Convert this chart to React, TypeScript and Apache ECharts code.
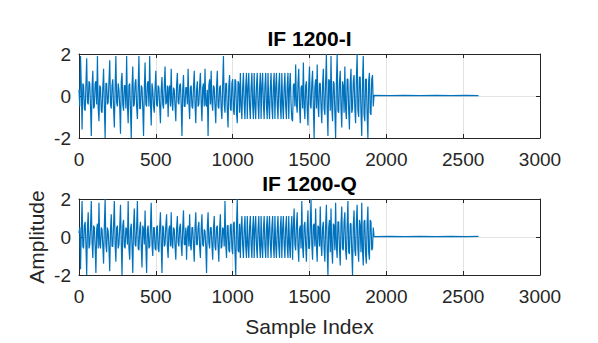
import React, { useEffect, useRef } from "react";
import * as echarts from "echarts";

// Sample spacing of the hand-read values (samples per value)
const STEP = 5;

// In-phase signal (one value per STEP samples, from sample 0)
const iValues = [
  0.3, -0.5, 1.9, 0.4, -1.6, 0.6, 0.5, -0.6, -0.7, 0.5, 1.8, -0.3, -0.4, 0.7, 0.6, -0.5, -1.9, 0.4, 1.2, -0.6,
  -0.5, 0.6, 0.7, -0.4, 1.9, -0.6, -1.2, 0.5, 0.4, -0.7, -0.8, 0.4, 1.3, -0.5, -2.0, 0.6, 0.6, -0.4, -0.3, 0.7,
  1.7, -0.4, -0.6, 0.5, 0.8, -0.6, -1.5, 0.4, 1.9, -0.3, -0.5, 0.6, 0.3, -0.5, -1.8, 0.7, 1.1, -0.4, -0.7, 0.5,
  0.5, -0.6, 1.9, -0.4, -1.3, 0.5, 0.6, -0.7, -2.0, 0.4, 1.4, -0.5, -0.4, 0.6, 0.8, -0.5, -1.1, 0.4, 1.9, -0.6,
  -0.6, 0.5, 0.4, -0.6, -1.9, 0.3, 1.6, -0.4, -0.5, 0.6, 0.7, -0.5, 1.9, -0.3, -1.4, 0.6, 0.3, -0.5, -0.8, 0.4,
  1.2, -0.4, -0.5, 0.5, 0.4, -0.5, -1.3, 0.3, 0.9, -0.4, -0.6, 0.5, 1.4, -0.4, -0.3, 0.5, -1.0, 0.4, 0.5, -0.5,
  1.3, -0.3, -0.7, 0.4, 0.3, -0.5, -1.2, 0.5, 1.1, -0.3, -0.4, 0.5, 0.6, -0.4, -1.9, 0.3, 1.0, -0.5, -0.5, 0.4,
  0.4, -0.4, 1.3, -0.3, -1.1, 0.4, 0.5, -0.5, -0.6, 0.4, 1.2, -0.4, -1.3, 0.3, 0.7, -0.5, -0.4, 0.5, 1.1, -0.3,
  -1.2, 0.4, 0.6, -0.5, 1.3, -0.4, -0.5, 0.3, -1.9, 0.5, 0.8, -0.4, 1.2, -0.3, -0.7, 0.5, 0.4, -0.5, -1.3, 0.4,
  1.2, -0.5, -0.6, 0.4, 0.5, -0.6, -1.1, 0.5, 1.9, -0.4, -0.8, 0.6, 0.6, -0.7, -1.5, 0.5, 1.0, -0.6, -0.7, 0.6,
  0.8, -0.7, -0.9, 0.8, 0.7, -0.8, -1.3, 0.7, 0.6, -0.8,
  1.1, -0.5, -1.1, 0.4, 1.1, -0.4, -1.1, 0.5, 1.1, -1.1,
  0.4, 1.1, -0.5, -1.1, 0.4, 1.1, -0.4, -1.1, 1.1, -0.5,
  -1.1, 0.5, 1.1, -0.4, -1.1, 0.4, 1.1, -1.1, 0.5, 1.1,
  -0.4, -1.1, 0.5, 1.1, -0.5, -1.1, 1.1, -0.4, -1.1, 0.4,
  1.1, -0.5, -1.1, 0.5, 1.1, -1.1, 0.4, 1.1, -0.4, -1.1,
  0.5, 1.1, -0.5, -1.1, 1.1, -0.4, -1.1, 0.4, 1.1, -0.5,
  -1.1, 0.5, 1.1, -1.1, 0.4, 1.1, -0.4, -1.1,
  -1.2, 0.5, 0.6, -0.5, 1.5, -0.4, -0.8, 0.6, 1.3, -0.5, -1.3, 0.4, 0.5, -0.6, 1.6, -0.5, -1.1, 0.5, 0.7, -0.6,
  -1.4, 0.5, 1.4, -0.4, -0.6, 0.6, 1.2, -0.5, -2.0, 0.4, 0.8, -0.6, 1.5, -0.4, -1.0, 0.6, 0.6, -0.5, -1.3, 0.5,
  1.3, -0.6,
  -0.9, 0.7, 2.0, -0.6, -1.9, 0.8, 0.7, -0.7, 1.9, -0.5, -1.2, 0.7, 0.6, -0.8, -2.0, 0.6, 2.0, -0.7, -0.8, 0.6,
  1.2, -0.6, -1.5, 0.7, 0.5, -0.8, 1.4, -0.6, -1.1, 0.8, 0.8, -0.7, -1.6, 0.6, 1.3, -0.8, -0.6, 0.7, 1.0, -0.6,
  -1.3, 0.8, 2.0, -0.7, -1.0, 0.9, 0.9, -0.8, -1.9, 0.7, 1.9, -0.9, -1.2, 0.8, 0.8, -0.9, -2.0, 0.7, 1.1, -0.8,
  -0.9, 0.8, 1.0, -0.5,
];

// Quadrature signal
const qValues = [
  0.2, 0.5, -1.7, 0.4, 1.9, -0.5, -0.6, 0.6, 0.8, -0.4, -2.0, 0.5, 1.3, -0.6, -0.4, 0.5, 1.9, -0.3, -1.1, 0.6,
  0.5, -0.5, -1.9, 0.4, 0.7, -0.6, 1.8, -0.4, -0.6, 0.5, 0.4, -0.5, -1.4, 0.6, 2.0, -0.4, -0.8, 0.5, 0.3, -0.6,
  -1.8, 0.4, 1.2, -0.5, -0.5, 0.6, 1.9, -0.4, -1.3, 0.5, 0.6, -0.6, -0.4, 0.5, 1.7, -0.3, -2.0, 0.6, 0.9, -0.5,
  -0.6, 0.5, 0.4, -0.4, 1.9, -0.6, -1.2, 0.4, 0.7, -0.5, -1.9, 0.6, 1.5, -0.4, -0.5, 0.5, 1.9, -0.6, -0.7, 0.4,
  0.8, -0.5, -1.6, 0.6, 0.4, -0.4, 1.4, -0.5, -1.9, 0.4, 0.6, -0.6, -0.5, 0.5, 1.8, -0.4, -1.0, 0.5, 0.5, -0.6,
  -0.7, 0.5, 0.6, -0.6, -0.8, 0.5, 1.3, -0.4, -1.9, 0.6, 0.5, -0.5, -0.4, 0.6, 1.2, -0.5, -1.1, 0.4, 0.6, -0.5,
  1.3, -0.4, -0.6, 0.5, 0.4, -0.5, -1.2, 0.4, 1.1, -0.3, -0.5, 0.5, 0.7, -0.4, -1.0, 0.5, 1.4, -0.4, -0.4, 0.5,
  -1.2, 0.3, 0.6, -0.5, 1.2, -0.4, -0.7, 0.5, 0.5, -0.4, -1.3, 0.5, 1.3, -0.4, -0.4, 0.5, 0.8, -0.5, -1.1, 0.4,
  1.2, -0.4, -0.5, 0.4, 0.3, -0.5, -1.9, 0.5, 1.3, -0.3, -0.6, 0.5, 0.5, -0.4, -1.2, 0.4, 1.1, -0.5, -0.7, 0.5,
  0.6, -0.5, -1.3, 0.4, 1.2, -0.6, -0.5, 0.5, 0.4, -0.5, 1.9, -0.4, -1.1, 0.6, 0.6, -0.7, -0.8, 0.6, 0.7, -0.6,
  -0.9, 0.7, 0.8, -0.8, -2.0, 0.6, 2.0, -0.7, -0.8, 0.7,
  -1.1, 0.5, 1.1, -0.4, -1.1, 0.4, 1.1, -0.5, -1.1, 1.1,
  -0.4, -1.1, 0.5, 1.1, -0.4, -1.1, 0.4, 1.1, -1.1, 0.5,
  1.1, -0.5, -1.1, 0.4, 1.1, -0.4, -1.1, 1.1, -0.5, -1.1,
  0.4, 1.1, -0.5, -1.1, 0.5, 1.1, -1.1, 0.4, 1.1, -0.4,
  -1.1, 0.5, 1.1, -0.5, -1.1, 1.1, -0.4, -1.1, 0.4, 1.1,
  -0.5, -1.1, 0.5, 1.1, -1.1, 0.4, 1.1, -0.4, -1.1, 0.5,
  1.1, -0.5, -1.1, 1.1, -0.4, -1.1, 0.4, 1.1,
  -1.2, 0.5, 1.5, -0.4, -0.7, 0.6, 1.3, -0.5, -1.3, 0.4, 0.6, -0.6, 1.9, -0.5, -1.1, 0.6, 0.8, -0.4, -1.3, 0.5,
  1.4, -0.6, -0.6, 0.5, 2.0, -0.4, -1.2, 0.6, 0.7, -0.5, 1.5, -0.4, -1.3, 0.6, 0.5, -0.5, 1.6, -0.4, -1.0, 0.5,
  0.8, -0.6,
  -1.3, 0.6, 1.7, -0.7, -2.0, 0.5, 0.9, -0.8, 1.5, -0.6, -1.4, 0.7, 0.6, -0.7, 1.8, -0.5, -1.1, 0.8, 0.8, -0.6,
  -1.5, 0.7, 1.6, -0.6, -0.7, 0.8, 1.3, -0.7, -1.2, 0.6, 1.9, -0.8, -0.9, 0.7, 0.7, -0.8, -2.0, 0.6, 1.4, -0.7,
  -1.0, 0.8, 1.7, -0.6, -1.3, 0.9, 0.6, -0.8, 1.8, -0.7, -1.5, 0.8, 0.9, -0.9, -1.4, 0.7, 1.6, -0.8, -1.2, 0.9,
  0.8, -0.7, -0.6, 0.5,
];

// Near-zero tail after the burst (sample index, value)
const tailSamples = [1920, 2020, 2120, 2220, 2320, 2420, 2520, 2600];
const iTail = [0.03, 0.02, 0.03, 0.02, 0.03, 0.02, 0.03, 0.02];
const qTail = [0.02, 0.03, 0.02, 0.03, 0.02, 0.03, 0.02, 0.03];

const xTicks = { min: 0, max: 3000, interval: 500 };
const yTicks = { min: -2, max: 2, interval: 2 };
const titles = ["IF 1200-I", "IF 1200-Q"];
const xLabel = "Sample Index";
const yLabel = "Amplitude";

const FONT = "'Liberation Sans', Arial, Helvetica, sans-serif";
const INK = "#262626";
const LINE = "#0072BD";
const GRIDC = "#e3e3e3";

function toPairs(vals: number[], tailV: number[]) {
  const pts: number[][] = vals.map((v, k) => [k * STEP, v]);
  tailSamples.forEach((s, k) => pts.push([s, tailV[k]]));
  return pts;
}

export default function App() {
  const ref = useRef<HTMLDivElement>(null);
  useEffect(() => {
    document.body.style.margin = "0";
    const chart = echarts.init(ref.current!, undefined, { renderer: "svg" });
    const grids = [
      { left: 79, right: 58, top: 54, height: 84 },
      { left: 79, right: 58, top: 199, height: 76 },
    ];
    const fmt = (v: number) => String(v);
    const xAxes: any[] = [];
    const yAxes: any[] = [];
    grids.forEach((_, g) => {
      xAxes.push({
        type: "value", gridIndex: g, position: "bottom", ...xTicks,
        axisLine: { show: true, onZero: false, lineStyle: { color: INK, width: 1 } },
        axisTick: { show: true, inside: true, length: 4, lineStyle: { color: INK } },
        axisLabel: { show: true, color: INK, fontSize: 19, fontFamily: FONT, margin: 12, formatter: fmt },
        splitLine: { show: true, lineStyle: { color: GRIDC, width: 1 } },
      });
      xAxes.push({
        type: "value", gridIndex: g, position: "top", ...xTicks,
        axisLine: { show: true, onZero: false, lineStyle: { color: INK, width: 1 } },
        axisTick: { show: true, inside: true, length: 4, lineStyle: { color: INK } },
        axisLabel: { show: false },
        splitLine: { show: false },
      });
      yAxes.push({
        type: "value", gridIndex: g, position: "left", ...yTicks,
        axisLine: { show: true, onZero: false, lineStyle: { color: INK, width: 1 } },
        axisTick: { show: true, inside: true, length: 4, lineStyle: { color: INK } },
        axisLabel: { show: true, color: INK, fontSize: 19, fontFamily: FONT, margin: 8, formatter: fmt },
        splitLine: { show: true, lineStyle: { color: GRIDC, width: 1 } },
      });
      yAxes.push({
        type: "value", gridIndex: g, position: "right", ...yTicks,
        axisLine: { show: true, onZero: false, lineStyle: { color: INK, width: 1 } },
        axisTick: { show: true, inside: true, length: 4, lineStyle: { color: INK } },
        axisLabel: { show: false },
        splitLine: { show: false },
      });
    });
    chart.setOption({
      animation: false,
      backgroundColor: "#ffffff",
      grid: grids,
      xAxis: xAxes,
      yAxis: yAxes,
      series: [
        {
          type: "line", xAxisIndex: 0, yAxisIndex: 0, data: toPairs(iValues, iTail),
          showSymbol: false, symbol: "none", lineStyle: { color: LINE, width: 1.2 }, z: 3,
        },
        {
          type: "line", xAxisIndex: 2, yAxisIndex: 2, data: toPairs(qValues, qTail),
          showSymbol: false, symbol: "none", lineStyle: { color: LINE, width: 1.2 }, z: 3,
        },
      ],
      graphic: [
        {
          type: "text", x: 309.5, y: 38,
          style: { text: titles[0], fontSize: 21, fontWeight: "bold", fontFamily: FONT, fill: "#000", align: "center", verticalAlign: "middle" },
        },
        {
          type: "text", x: 309.5, y: 183,
          style: { text: titles[1], fontSize: 21, fontWeight: "bold", fontFamily: FONT, fill: "#000", align: "center", verticalAlign: "middle" },
        },
        {
          type: "text", x: 309.5, y: 326,
          style: { text: xLabel, fontSize: 21, fontFamily: FONT, fill: INK, align: "center", verticalAlign: "middle" },
        },
        {
          type: "text", x: 36, y: 237, rotation: Math.PI / 2,
          style: { text: yLabel, fontSize: 21, fontFamily: FONT, fill: INK, align: "center", verticalAlign: "middle" },
        },
      ],
    });
    return () => chart.dispose();
  }, []);
  return (
    <div
      ref={ref}
      style={{ position: "fixed", left: 0, top: 0, width: 598, height: 343, background: "#fff" }}
    />
  );
}
